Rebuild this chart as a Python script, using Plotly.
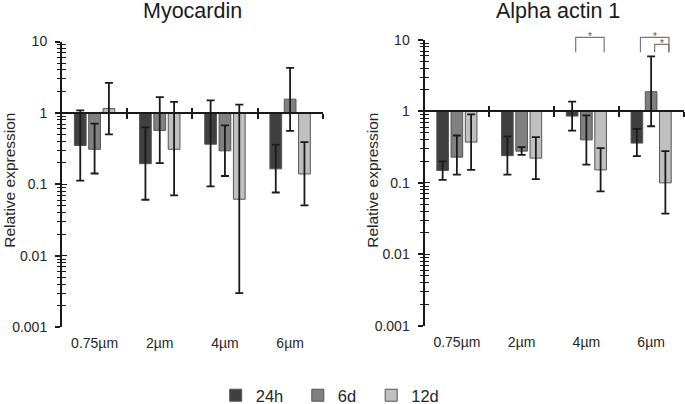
import plotly.graph_objects as go

# ---------------- data ----------------
categories = ["0.75µm", "2µm", "4µm", "6µm"]
series_names = ["24h", "6d", "12d"]

myo_24h = [0.35, 0.195, 0.365, 0.165]
myo_24h_hi = [1.09, 0.63, 1.5, 0.36]
myo_24h_lo = [0.113, 0.061, 0.094, 0.077]
myo_6d = [0.31, 0.57, 0.295, 1.56]
myo_6d_hi = [0.71, 1.67, 0.67, 4.27]
myo_6d_lo = [0.142, 0.198, 0.131, 0.56]
myo_12d = [1.15, 0.31, 0.062, 0.14]
myo_12d_hi = [2.63, 1.43, 1.31, 0.39]
myo_12d_lo = [0.50, 0.07, 0.003, 0.051]

act_24h = [0.149, 0.24, 0.86, 0.36]
act_24h_hi = [0.20, 0.447, 1.37, 0.57]
act_24h_lo = [0.11, 0.13, 0.54, 0.237]
act_6d = [0.229, 0.278, 0.40, 1.89]
act_6d_hi = [0.46, 0.316, 0.88, 5.9]
act_6d_lo = [0.13, 0.246, 0.18, 0.62]
act_12d = [0.372, 0.222, 0.152, 0.10]
act_12d_hi = [0.91, 0.436, 0.306, 0.278]
act_12d_lo = [0.152, 0.113, 0.076, 0.037]

y_tick_vals = [0.001, 0.01, 0.1, 1, 10]
y_tick_text = ["0.001", "0.01", "0.1", "1", "10"]
y_minor_vals = [k * 10 ** e for e in range(-3, 1) for k in range(2, 10)]

# significance: (group index, bar a, bar b, level)
sig_pairs = [(2, 0, 2, 0), (3, 0, 2, 0), (3, 1, 2, 1)]

# ---------------- styling ----------------
W, H = 685, 404
FONT = "Liberation Sans, Arial, sans-serif"
fills = ["#404040", "#808080", "#c0c0c0"]
edge = "#555555"
axis_col = "#1a1a1a"
txt_col = "#262626"
offsets = [-0.22, 0.0, 0.22]
bar_w = 0.18
legend_sq_px = [236.7, 318.8, 392.2]   # legend square centres (px)

def px_x(p):
    return p / W

def px_y(p):
    return 1 - p / H

panels = [
    dict(title="Myocardin", xd=[px_x(62), px_x(322.7)], yd=[px_y(327.3), px_y(41.5)],
         data=[(myo_24h, myo_24h_hi, myo_24h_lo), (myo_6d, myo_6d_hi, myo_6d_lo), (myo_12d, myo_12d_hi, myo_12d_lo)],
         title_x=192.5, ytitle_x=10),
    dict(title="Alpha actin 1", xd=[px_x(424.5), px_x(683.5)], yd=[px_y(325.7), px_y(40)],
         data=[(act_24h, act_24h_hi, act_24h_lo), (act_6d, act_6d_hi, act_6d_lo), (act_12d, act_12d_hi, act_12d_lo)],
         title_x=558, ytitle_x=373),
]

fig = go.Figure()
layout = dict(
    width=W, height=H, autosize=False,
    margin=dict(l=0, r=0, t=0, b=0, pad=0, autoexpand=False),
    paper_bgcolor="white", plot_bgcolor="white",
    barmode="overlay", showlegend=True,
    font=dict(family=FONT, color=txt_col, size=14),
)
annotations = []
shapes = []

xrange_ = [-0.5, 3.5]
cat_idx = list(range(len(categories)))
legend_ids = ["legend", "legend2", "legend3"]

for pi, p in enumerate(panels):
    xm, ym = pi * 3 + 1, pi * 4 + 1
    xA, xB = xm + 1, xm + 2
    yA, yB, yC = ym + 1, ym + 2, ym + 3
    def xn(k): return "x" if k == 1 else "x%d" % k
    def yn(k): return "y" if k == 1 else "y%d" % k
    def xl(k): return "xaxis" if k == 1 else "xaxis%d" % k
    def yl(k): return "yaxis" if k == 1 else "yaxis%d" % k

    for si, (vals, hi, lo) in enumerate(p["data"]):
        xpos = [i + offsets[si] for i in cat_idx]
        fig.add_trace(go.Bar(
            x=xpos, y=[v - 1 for v in vals], base=1, width=bar_w,
            name=series_names[si], legend=legend_ids[si], showlegend=(pi == 0),
            marker=dict(color=fills[si], line=dict(color=edge, width=1)),
            xaxis=xn(xm), yaxis=yn(ym), hoverinfo="skip",
        ))
        fig.add_trace(go.Scatter(
            x=xpos, y=vals, mode="markers", marker=dict(size=1, opacity=0),
            showlegend=False, xaxis=xn(xm), yaxis=yn(ym), hoverinfo="skip",
            error_y=dict(type="data", symmetric=False,
                         array=[h - v for h, v in zip(hi, vals)],
                         arrayminus=[v - l for l, v in zip(lo, vals)],
                         color=axis_col, thickness=1.8, width=4),
        ))
    for (xa, ya) in ((xA, yA), (xB, yB), (xA, yC)):
        fig.add_trace(go.Scatter(x=[None], y=[None], mode="markers", showlegend=False,
                                 xaxis=xn(xa), yaxis=yn(ya), hoverinfo="skip"))

    y_dom = p["yd"]
    line_pos = y_dom[0] + 0.75 * (y_dom[1] - y_dom[0])
    tickfont = dict(size=14, color=txt_col, family=FONT)

    layout[xl(xm)] = dict(domain=p["xd"], range=xrange_, anchor=yn(ym), tickmode="array",
                          tickvals=cat_idx, ticktext=categories, showline=False,
                          ticks="outside", ticklen=3, tickcolor="rgba(0,0,0,0)",
                          showgrid=False, zeroline=False, tickfont=tickfont)
    for k, tk in ((xA, "outside"), (xB, "inside")):
        layout[xl(k)] = dict(domain=p["xd"], range=xrange_, anchor="free", position=line_pos,
                             overlaying=xn(xm), tickmode="array",
                             tickvals=[i + 0.5 for i in cat_idx], showticklabels=False,
                             showline=(tk == "outside"), linecolor=axis_col, linewidth=2,
                             ticks=tk, ticklen=5, tickwidth=1.5, tickcolor=axis_col,
                             showgrid=False, zeroline=False)

    layout[yl(ym)] = dict(domain=y_dom, type="log", range=[-3, 1], anchor=xn(xm),
                          tickmode="array", tickvals=y_tick_vals, ticktext=y_tick_text,
                          showline=True, linecolor=axis_col, linewidth=2,
                          ticks="outside", ticklen=5, tickwidth=1.5, tickcolor=axis_col,
                          ticklabelstandoff=5, showgrid=False, zeroline=False, tickfont=tickfont)
    for k, vals_, tk, ln in ((yA, y_tick_vals, "inside", 5), (yB, y_minor_vals, "outside", 4),
                             (yC, y_minor_vals, "inside", 4)):
        layout[yl(k)] = dict(domain=y_dom, type="log", range=[-3, 1], anchor=xn(xm), overlaying=yn(ym),
                             tickmode="array", tickvals=vals_, showticklabels=False, showline=False,
                             ticks=tk, ticklen=ln, tickwidth=1.3, tickcolor=axis_col,
                             showgrid=False, zeroline=False)

    annotations.append(dict(text=p["title"], x=px_x(p["title_x"]), y=px_y(10.5), xref="paper", yref="paper",
                            xanchor="center", yanchor="middle", showarrow=False,
                            font=dict(size=21.5, color="#1a1a1a", family=FONT)))
    annotations.append(dict(text="Relative expression", x=px_x(p["ytitle_x"]), y=px_y(180.8),
                            xref="paper", yref="paper", xanchor="center", yanchor="middle",
                            textangle=-90, showarrow=False,
                            font=dict(size=15.5, color=txt_col, family=FONT)))

level_top = [37.3, 44.3]
leg_bottom = 52.3
shift = 0.055
for g, a, b, lvl in sig_pairs:
    xa = g + offsets[a] + shift
    xb = g + offsets[b] + shift
    yt = px_y(level_top[lvl])
    yb = px_y(leg_bottom)
    shapes.append(dict(type="path", xref="x4", yref="paper",
                       path="M %f,%f L %f,%f L %f,%f L %f,%f" % (xa, yb, xa, yt, xb, yt, xb, yb),
                       line=dict(color="#777777", width=1.2)))
    annotations.append(dict(text="*", x=(xa + xb) / 2, y=px_y(level_top[lvl] - 1), xref="x4", yref="paper",
                            xanchor="center", yanchor="middle", showarrow=False,
                            font=dict(size=10, color="#555555", family=FONT)))

layout["annotations"] = annotations
layout["shapes"] = shapes
for li, lid in enumerate(legend_ids):
    layout[lid] = dict(orientation="h", x=px_x(legend_sq_px[li] - 21), y=px_y(395.5),
                       xanchor="left", yanchor="middle",
                       font=dict(size=16.5, color=txt_col, family=FONT), bgcolor="rgba(0,0,0,0)")
fig.update_layout(**layout)
fig.write_html("out.html", config={"displayModeBar": False},
               post_script="document.body.style.margin='0';document.body.style.padding='0';"
                           "document.body.style.overflow='hidden';")
